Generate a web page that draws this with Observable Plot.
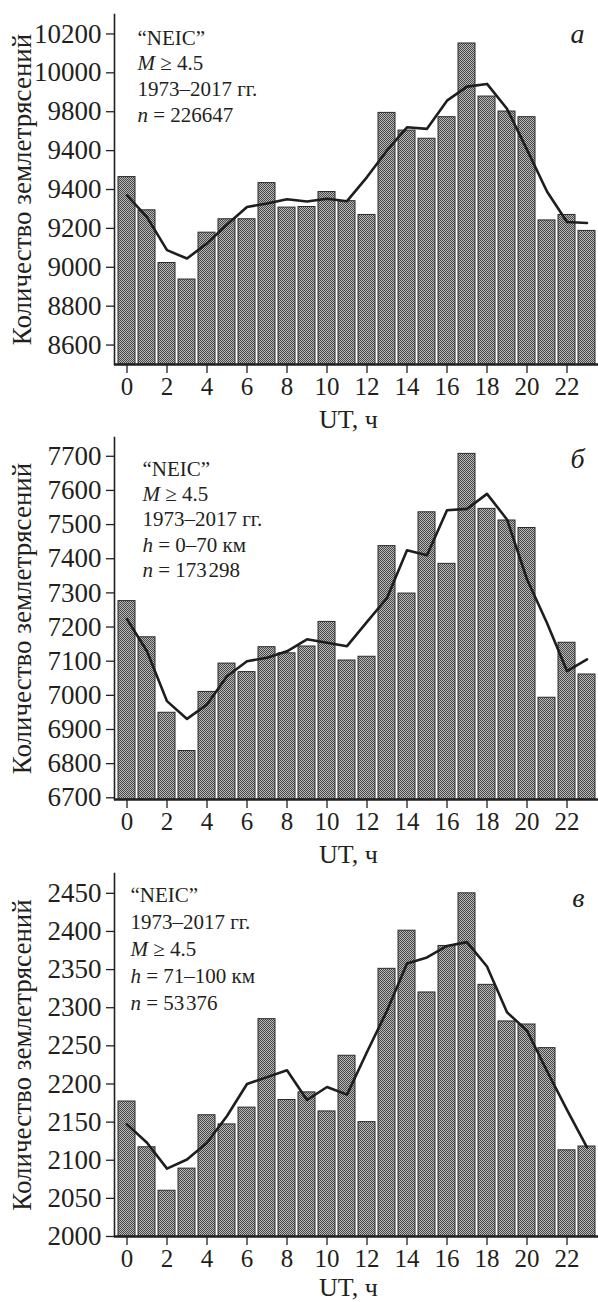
<!DOCTYPE html>
<html><head><meta charset="utf-8">
<script src="https://cdn.jsdelivr.net/npm/d3@7"></script>
<script src="https://cdn.jsdelivr.net/npm/@observablehq/plot@0.6"></script>
<style>
body{margin:0;background:#fff;width:598px;overflow:hidden}
svg{display:block}
</style></head><body><div id="chart"></div>
<script>
// ---- data ----
const hours = [0,1,2,3,4,5,6,7,8,9,10,11,12,13,14,15,16,17,18,19,20,21,22,23];
const hourTicks = [0,2,4,6,8,10,12,14,16,18,20,22];

// panel а
const countsA = [9464, 9293, 9022, 8937, 9178, 9247, 9247, 9433, 9307, 9310, 9387, 9340, 9269, 9794, 9703, 9661, 9772, 10151, 9878, 9801, 9772, 9241, 9269, 9187];
const smoothA = [9370, 9258, 9088, 9045, 9123, 9220, 9310, 9328, 9350, 9338, 9352, 9340, 9464, 9601, 9720, 9712, 9857, 9929, 9943, 9815, 9605, 9390, 9233, 9228];
const yTicksA = [8600, 8800, 9000, 9200, 9400, 9600, 9800, 10000, 10200];
const yLabelsA = ["8600", "8800", "9000", "9200", "9400", "9400", "9800", "10000", "10200"];
const domainA = [8500, 10300];
const notesA = ["“NEIC”", "M ≥ 4.5", "1973–2017 гг.", "n = 226647"];

// panel б
const countsB = [7276, 7170, 6949, 6837, 7010, 7093, 7068, 7141, 7123, 7143, 7215, 7102, 7113, 7437, 7298, 7536, 7385, 7707, 7546, 7512, 7490, 6993, 7154, 7061];
const smoothB = [7223, 7129, 6983, 6931, 6973, 7056, 7100, 7110, 7129, 7164, 7154, 7144, 7215, 7285, 7425, 7410, 7542, 7546, 7590, 7515, 7340, 7212, 7071, 7105];
const yTicksB = [6700, 6800, 6900, 7000, 7100, 7200, 7300, 7400, 7500, 7600, 7700];
const yLabelsB = ["6700", "6800", "6900", "7000", "7100", "7200", "7300", "7400", "7500", "7600", "7700"];
const domainB = [6695, 7755];
const notesB = ["“NEIC”", "M ≥ 4.5", "1973–2017 гг.", "h = 0–70 км", "n = 173\u200a298"];

// panel в
const countsC = [2177, 2117, 2060, 2089, 2159, 2147, 2169, 2285, 2179, 2189, 2164, 2237, 2150, 2351, 2401, 2320, 2381, 2450, 2330, 2282, 2278, 2247, 2113, 2118];
const smoothC = [2147, 2123, 2089, 2101, 2123, 2158, 2200, 2209, 2218, 2179, 2196, 2186, 2242, 2296, 2358, 2366, 2381, 2386, 2354, 2294, 2270, 2217, 2166, 2117];
const yTicksC = [2000, 2050, 2100, 2150, 2200, 2250, 2300, 2350, 2400, 2450];
const yLabelsC = ["2000", "2050", "2100", "2150", "2200", "2250", "2300", "2350", "2400", "2450"];
const domainC = [2000, 2476];
const notesC = ["“NEIC”", "1973–2017 гг.", "M ≥ 4.5", "h = 71–100 км", "n = 53\u200a376"];

const yTitle = "Количество землетрясений";
const xTitle = "UT, ч";

// ---- drawing ----
const INK = "#231f20";
const FONT = "'Liberation Serif', 'Times New Roman', serif";

function panel(cfg) {
  const data = hours.map((h, i) => ({hour: h, count: cfg.counts[i], smooth: cfg.smooth[i]}));
  const labelMap = new Map(cfg.yTicks.map((t, i) => [t, cfg.yLabels[i]]));
  const pid = "chk-" + cfg.id;
  const svg = Plot.plot({
    width: 598,
    height: cfg.height,
    marginLeft: 114,
    marginRight: 0,
    marginTop: cfg.marginTop,
    marginBottom: cfg.marginBottom,
    style: {fontFamily: FONT, color: INK, background: "#fff", overflow: "visible"},
    x: {type: "band", domain: hours, paddingInner: 0.15, paddingOuter: 0.075, axis: null},
    y: {domain: cfg.domain, axis: null},
    marks: [
      Plot.barY(data, {x: "hour", y1: cfg.domain[0], y2: "count", fill: `url(#${pid})`, stroke: "#2b2b2b", strokeWidth: 1}),
      Plot.line(data, {x: "hour", y: "smooth", stroke: "#1e1e1e", strokeWidth: 2.6, strokeLinejoin: "round"}),
      Plot.axisY({ticks: cfg.yTicks, tickFormat: d => labelMap.get(d), tickSize: 8, tickPadding: 5, fontSize: 27, label: null, stroke: INK, strokeWidth: 1.3}),
      Plot.axisX({ticks: hourTicks, tickSize: 9, tickPadding: 4, fontSize: 25, label: null, stroke: INK, strokeWidth: 1.3}),
      Plot.frame({anchor: "left", stroke: INK, strokeWidth: 1.6}),
      Plot.ruleY([cfg.domain[0]], {stroke: INK, strokeWidth: 2.6}),
      Plot.text([cfg.notes.join("\n")], {frameAnchor: "top-left", textAnchor: "start", lineAnchor: "top", lineHeight: cfg.lineHeight, dx: cfg.noteDx, dy: cfg.noteDy, fontSize: 21, fill: INK}),
      Plot.text([cfg.letter], {frameAnchor: "top-right", textAnchor: "end", lineAnchor: "top", dx: -14, dy: cfg.letterDy, fontSize: 28, fontStyle: "italic", fill: INK}),
      Plot.text([xTitle], {frameAnchor: "bottom", textAnchor: "middle", lineAnchor: "top", dx: -8, dy: cfg.xTitleDy, fontSize: 26, fill: INK}),
      Plot.text([yTitle], {frameAnchor: "left", rotate: -90, textAnchor: "middle", lineAnchor: "bottom", dx: -84, fontSize: 27, fill: INK})
    ]
  });
  // checkered fill pattern for bars
  const defs = d3.select(svg).insert("defs", ":first-child");
  const p = defs.append("pattern").attr("id", pid).attr("patternUnits", "userSpaceOnUse").attr("width", 2).attr("height", 2);
  p.append("rect").attr("width", 2).attr("height", 2).attr("fill", "#b8b8b8");
  p.append("rect").attr("width", 1).attr("height", 1).attr("fill", "#484848");
  p.append("rect").attr("x", 1).attr("y", 1).attr("width", 1).attr("height", 1).attr("fill", "#484848");
  // italic variable letters (M, n, h)
  d3.select(svg).selectAll("tspan").each(function() {
    const t = this.textContent;
    const m = /^([Mnh])( .*)$/.exec(t);
    if (m && this.childElementCount === 0) {
      this.textContent = "";
      d3.select(this).append("tspan").attr("font-style", "italic").text(m[1]);
      d3.select(this).append("tspan").text(m[2]);
    }
  });
  return svg;
}

const root = document.getElementById("chart");
root.appendChild(panel({id: "a", counts: countsA, smooth: smoothA, yTicks: yTicksA, yLabels: yLabelsA, domain: domainA, notes: notesA, letter: "а",
  height: 430, marginTop: 14, marginBottom: 66, lineHeight: 1.22, noteDx: 23, noteDy: 12, letterDy: 9, xTitleDy: 45}));
root.appendChild(panel({id: "b", counts: countsB, smooth: smoothB, yTicks: yTicksB, yLabels: yLabelsB, domain: domainB, notes: notesB, letter: "б",
  height: 436, marginTop: 7, marginBottom: 67, lineHeight: 1.21, noteDx: 28, noteDy: 20, letterDy: 11, xTitleDy: 45}));
root.appendChild(panel({id: "c", counts: countsC, smooth: smoothC, yTicks: yTicksC, yLabels: yLabelsC, domain: domainC, notes: notesC, letter: "в",
  height: 436, marginTop: 7, marginBottom: 66, lineHeight: 1.29, noteDx: 16, noteDy: 9, letterDy: 14, xTitleDy: 41}));
</script>
</body></html>
